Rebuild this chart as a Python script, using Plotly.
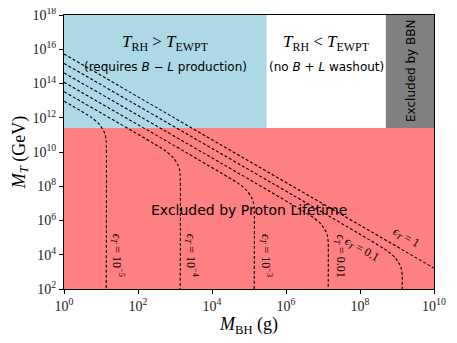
import numpy as np
import plotly.graph_objects as go

# region boundaries
mt_proton = 2.5e11      # proton lifetime limit on M_T (GeV)
mbh_ewpt = 3.0e5        # T_RH = T_EWPT (g)
mbh_bbn = 5.0e8         # BBN limit (g)
x_min, x_max = 1e0, 1e10
y_min, y_max = 1e2, 1e18

# dashed curves, log10 values
eps_labels = ["1e-5", "1e-4", "1e-3", "0.01", "0.1", "1"]
log_mbh = {
	"1e-5": [0, 0.74, 0.94, 1.07, 1.12, 1.14, 1.14],
	"1e-4": [0, 2.74, 2.94, 3.07, 3.12, 3.14, 3.14],
	"1e-3": [0, 4.74, 4.94, 5.07, 5.12, 5.14, 5.14],
	"0.01": [0, 6.74, 6.94, 7.07, 7.12, 7.14, 7.14],
	"0.1": [0, 8.74, 8.94, 9.07, 9.12, 9.14, 9.14],
	"1": [0, 10],
}
log_mt = {
	"1e-5": [12.97, 12.02, 11.65, 11.24, 10.95, 10.6, 2],
	"1e-4": [13.52, 10.07, 9.70, 9.29, 9.0, 8.65, 2],
	"1e-3": [14.07, 8.12, 7.75, 7.34, 7.05, 6.7, 2],
	"0.01": [14.62, 6.17, 5.80, 5.39, 5.1, 4.75, 2],
	"0.1": [15.17, 4.22, 3.85, 3.44, 3.15, 2.8, 2],
	"1": [15.72, 3.22],
}

serif = "Liberation Serif"
sans = "DejaVu Sans"

fig = go.Figure()

def box(x0, x1, y0, y1, color):
	fig.add_trace(go.Scatter(x=[x0, x1, x1, x0, x0], y=[y0, y0, y1, y1, y0],
		mode="lines", fill="toself", fillcolor=color, line=dict(width=0),
		hoverinfo="skip", showlegend=False))

box(x_min, x_max, y_min, mt_proton, "#ff8080")
box(x_min, mbh_ewpt, mt_proton, y_max, "#add8e6")
box(mbh_bbn, x_max, mt_proton, y_max, "#808080")

for e in eps_labels:
	fig.add_trace(go.Scatter(x=np.power(10.0, log_mbh[e]), y=np.power(10.0, log_mt[e]),
		mode="lines", line=dict(color="black", width=1.1, dash="3px,2px", shape="spline", smoothing=0.6),
		showlegend=False))

def label(lx, ly, text, size, font=sans, angle=0):
	fig.add_annotation(x=lx, y=ly, text=text, showarrow=False, textangle=angle,
		font=dict(family=font, size=size, color="black"))

label(2.73, 16.35, "<i>T</i><sub>RH</sub> > <i>T</i><sub>EWPT</sub>", 17, serif)
label(2.73, 14.95, "(requires <i>B</i> − <i>L</i> production)", 12)
label(7.1, 16.35, "<i>T</i><sub>RH</sub> < <i>T</i><sub>EWPT</sub>", 17, serif)
label(7.1, 14.95, "(no <i>B</i> + <i>L</i> washout)", 12)
label(9.36, 14.75, "Excluded by BBN", 12, sans, -90)
label(5.0, 6.6, "Excluded by Proton Lifetime", 14)

eps_text = ["10<sup>−5</sup>", "10<sup>−4</sup>", "10<sup>−3</sup>", "0.01"]
eps_x = [1.43, 3.43, 5.45, 7.46]
for t, lx in zip(eps_text, eps_x):
	label(lx, 3.95, "<i>ϵ</i><sub><i>T</i></sub> = " + t, 12, serif, 90)
label(8.05, 4.28, "<i>ϵ</i><sub><i>T</i></sub> = 0.1", 12, serif, 30)
label(9.25, 5.0, "<i>ϵ</i><sub><i>T</i></sub> = 1", 12, serif, 30)

xt = [10**k for k in range(0, 11, 2)]
yt = [10**k for k in range(2, 19, 2)]
axis_style = dict(type="log", showline=True, mirror=True, linecolor="black", linewidth=1,
	ticks="outside", ticklen=4, tickcolor="black", showgrid=False, zeroline=False,
	automargin=False, ticklabeloverflow="allow",
	tickfont=dict(family=serif, size=14, color="#222"))
fig.update_xaxes(range=[0, 10], tickvals=xt,
	ticktext=["10<sup>%d</sup>" % k for k in range(0, 11, 2)],
	title=dict(text="<i>M</i><sub>BH</sub> (g)", font=dict(family=serif, size=18, color="black"), standoff=0),
	**axis_style)
fig.update_yaxes(range=[2, 18], tickvals=yt,
	ticktext=["10<sup>%d</sup>" % k for k in range(2, 19, 2)],
	title=dict(text="<i>M</i><sub><i>T</i></sub> (GeV)", font=dict(family=serif, size=18, color="black"), standoff=2),
	**axis_style)
# page body adds 8px margin, so the figure is a bit smaller than the window
fig.update_layout(width=449, height=335, margin=dict(l=56, r=23, t=7, b=54),
	plot_bgcolor="white", paper_bgcolor="white")
fig.write_html("out.html")
